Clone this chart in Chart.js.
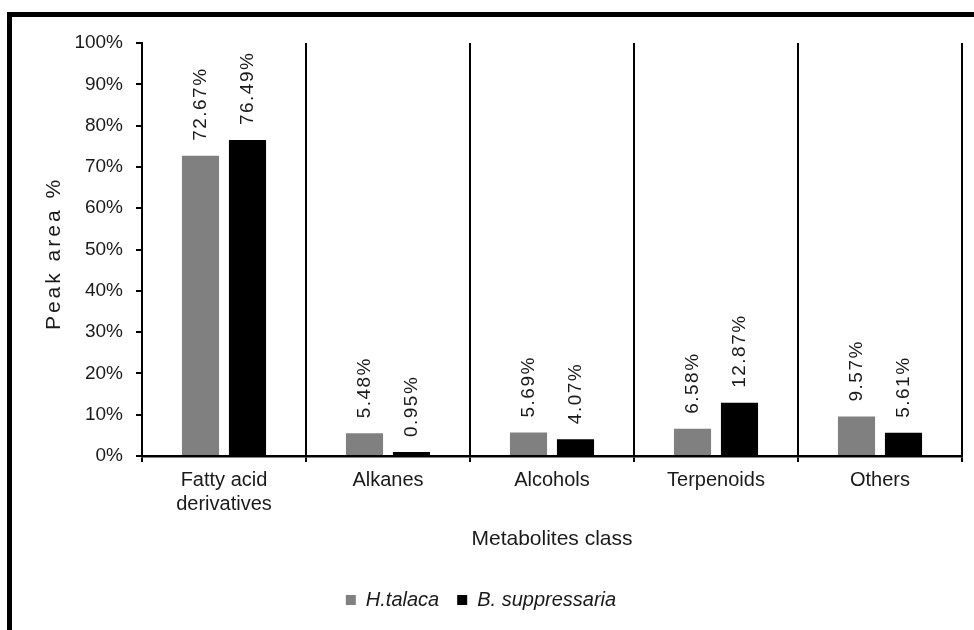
<!DOCTYPE html>
<html>
<head>
<meta charset="utf-8">
<script src="https://cdn.jsdelivr.net/npm/chart.js@4"></script>
<style>
    body { margin: 0; background: #fff; }
    #wrap { position: relative; width: 974px; height: 630px; overflow: hidden; }
    #frame {
        position: absolute; left: 7px; top: 12px; width: 1000px; height: 700px;
        border-top: 5px solid #000; border-left: 5px solid #000;
    }
    #chart { position: absolute; left: 0; top: 0; }
</style>
</head>
<body>
<div id="wrap">
    <div id="frame"></div>
    <canvas id="chart" width="974" height="630"></canvas>
</div>
<script>
const categories = [['Fatty acid', 'derivatives'], 'Alkanes', 'Alcohols', 'Terpenoids', 'Others'];
const hTalaca = [72.67, 5.48, 5.69, 6.58, 9.57];
const bSuppressaria = [76.49, 0.95, 4.07, 12.87, 5.61];
const yTicks = [0, 10, 20, 30, 40, 50, 60, 70, 80, 90, 100];
const yTitle = 'Peak area %';

const FONT = "'Liberation Sans', Arial, sans-serif";
const TEXT = '#1a1a1a';

// rotated value labels above each bar, plus the y title
const barLabels = {
    id: 'barLabels',
    afterDraw(chart) {
        const ctx = chart.ctx;
        ctx.save();
        ctx.font = '19px ' + FONT;
        ctx.letterSpacing = '1.5px';
        ctx.fillStyle = TEXT;
        ctx.textAlign = 'left';
        ctx.textBaseline = 'middle';
        chart.data.datasets.forEach(function(ds, i){
            chart.getDatasetMeta(i).data.forEach(function(bar, j){
                ctx.save();
                ctx.translate(bar.x, bar.y - 15);
                ctx.rotate(-Math.PI / 2);
                ctx.fillText(ds.data[j].toFixed(2) + '%', 0, 0);
                ctx.restore();
            });
        });

        // y axis title, spaced out like the reference
        const area = chart.chartArea;
        ctx.font = '21px ' + FONT;
        ctx.letterSpacing = '3px';
        ctx.textAlign = 'center';
        ctx.translate(54, (area.top + area.bottom) / 2 + 4);
        ctx.rotate(-Math.PI / 2);
        ctx.fillText(yTitle, 0, 0);
        ctx.restore();
    }
};

const ctx = document.getElementById('chart').getContext('2d');
new Chart(ctx, {
    type: 'bar',
    data: {
        labels: categories,
        datasets: [
            {
                label: 'H.talaca',
                data: hTalaca,
                backgroundColor: '#808080',
                categoryPercentage: 0.573,
                barPercentage: 0.79
            },
            {
                label: 'B. suppressaria',
                data: bSuppressaria,
                backgroundColor: '#000000',
                categoryPercentage: 0.573,
                barPercentage: 0.79
            }
        ]
    },
    options: {
        responsive: false,
        animation: false,
        layout: {
            padding: { left: 0, top: 43, right: 12, bottom: 10 }
        },
        scales: {
            x: {
                afterFit: function(scale){ scale.height = 116; },
                grid: {
                    offset: true,
                    color: '#000',
                    lineWidth: 2,
                    tickLength: 6
                },
                border: { color: '#000', width: 2.5 },
                ticks: {
                    color: TEXT,
                    padding: 6,
                    font: { family: FONT, size: 20, lineHeight: 1.2 }
                },
                title: {
                    display: true,
                    text: 'Metabolites class',
                    color: TEXT,
                    font: { family: FONT, size: 21 },
                    padding: { top: 4, bottom: 20 }
                }
            },
            y: {
                min: 0,
                max: 100,
                afterFit: function(scale){ scale.width = 142; },
                afterBuildTicks: function(scale){
                    scale.ticks = yTicks.map(function(v){ return { value: v }; });
                },
                grid: {
                    drawOnChartArea: false,
                    color: '#000',
                    lineWidth: 2,
                    tickLength: 6
                },
                border: { color: '#000', width: 2 },
                ticks: {
                    color: TEXT,
                    padding: 13,
                    font: { family: FONT, size: 19 },
                    callback: function(v){ return v + '%'; }
                },
                title: { display: false }
            }
        },
        plugins: {
            legend: {
                position: 'bottom',
                labels: {
                    color: TEXT,
                    boxWidth: 10,
                    boxHeight: 10,
                    padding: 18,
                    font: { family: FONT, size: 20, style: 'italic' }
                }
            },
            tooltip: { enabled: false }
        }
    },
    plugins: [barLabels]
});
</script>
</body>
</html>
